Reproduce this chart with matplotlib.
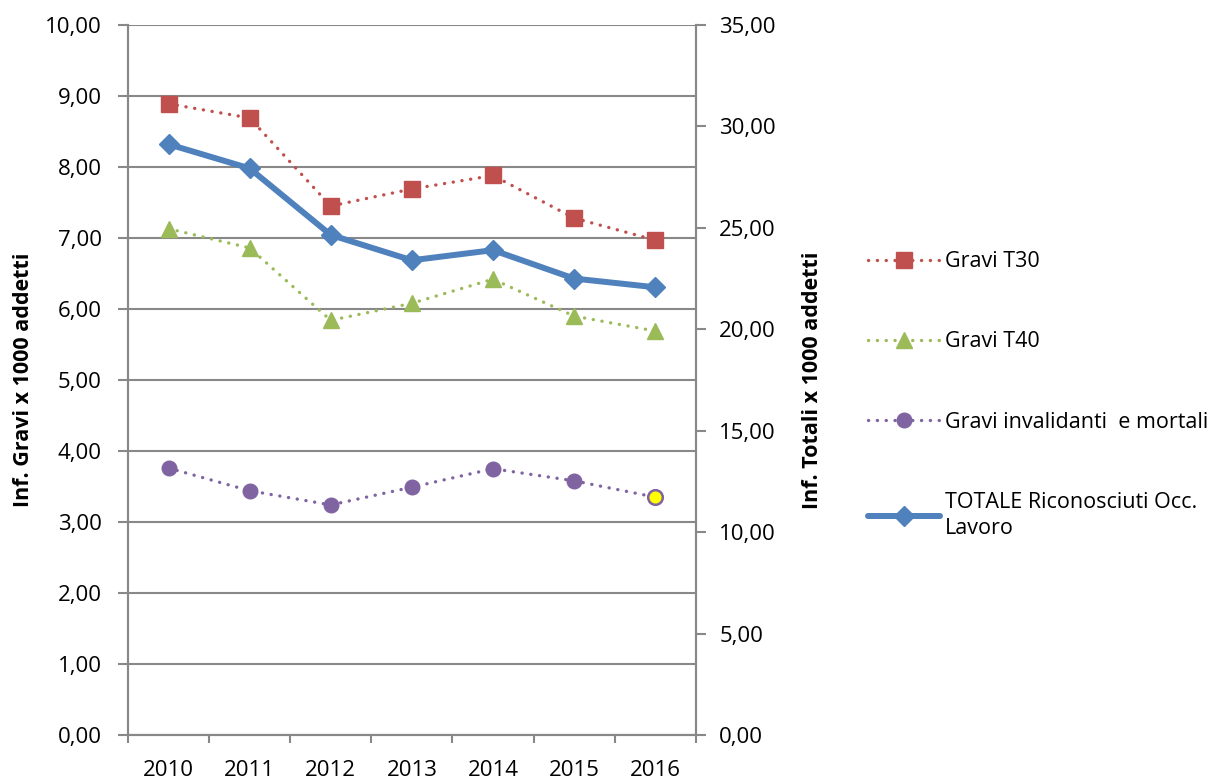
import numpy as np
import matplotlib.pyplot as plt
from matplotlib.ticker import FuncFormatter, MultipleLocator

plt.rcParams['font.family'] = ['Open Sans', 'DejaVu Sans']

# data
years = ['2010', '2011', '2012', '2013', '2014', '2015', '2016']
gravi_t30 = [8.89, 8.69, 7.45, 7.69, 7.88, 7.28, 6.97]
gravi_t40 = [7.13, 6.86, 5.84, 6.08, 6.42, 5.90, 5.69]
gravi_inv = [3.76, 3.44, 3.24, 3.49, 3.75, 3.58, 3.35]
totale = [29.12, 27.93, 24.65, 23.40, 23.90, 22.50, 22.07]

RED = '#C0504D'
GREEN = '#9BBB59'
PURPLE = '#8064A2'
BLUE = '#4F81BD'
GRID = '#888888'

def comma_fmt(v, pos):
    return f'{v:.2f}'.replace('.', ',')

x = np.arange(len(years))

fig = plt.figure(figsize=(12.21, 7.80), dpi=100)
ax1 = fig.add_axes([0.1048, 0.0577, 0.465, 0.9103])
ax2 = ax1.twinx()

dot = dict(linestyle=(0, (0.05, 2.6)), linewidth=2.4, dash_capstyle='round')

l1, = ax1.plot(x, gravi_t30, color=RED, marker='s', markersize=11,
               markeredgecolor=RED, label='Gravi T30', **dot)
l2, = ax1.plot(x, gravi_t40, color=GREEN, marker='^', markersize=12,
               markeredgecolor=GREEN, label='Gravi T40', **dot)
l3, = ax1.plot(x, gravi_inv, color=PURPLE, marker='o', markersize=10.5,
               markeredgecolor=PURPLE, label='Gravi invalidanti  e mortali', **dot)
# last point highlighted in yellow
ax1.plot(x[-1:], gravi_inv[-1:], linestyle='none', marker='o', markersize=10.5,
         markerfacecolor='#FFFF00', markeredgecolor=PURPLE, markeredgewidth=1.8)
l4, = ax2.plot(x, totale, color=BLUE, marker='D', markersize=10,
               linewidth=4.3, solid_capstyle='round', label='TOTALE Riconosciuti Occ.\nLavoro')

ax1.set_ylim(0, 10)
ax2.set_ylim(0, 35)
ax1.set_xlim(-0.5, len(years) - 0.5)
ax1.yaxis.set_major_locator(MultipleLocator(1))
ax2.yaxis.set_major_locator(MultipleLocator(5))
ax1.yaxis.set_major_formatter(FuncFormatter(comma_fmt))
ax2.yaxis.set_major_formatter(FuncFormatter(comma_fmt))

ax1.grid(axis='y', color=GRID, linewidth=1.5)
ax1.set_axisbelow(True)

ax1.set_xticks(x)
ax1.set_xticklabels(years)
ax1.set_xticks(np.arange(-0.5, len(years)), minor=True)
ax1.tick_params(axis='x', which='major', length=0, pad=18, labelsize=16)
ax1.tick_params(axis='x', which='minor', length=6, width=1.5, color=GRID)
ax1.tick_params(axis='y', length=7, width=1.5, color=GRID, labelsize=16, pad=12)
ax2.tick_params(axis='y', length=7, width=1.5, color=GRID, labelsize=16, pad=10)

for a in (ax1, ax2):
    a.spines['top'].set_visible(False)
    for s in ('left', 'right', 'bottom'):
        a.spines[s].set_color(GRID)
        a.spines[s].set_linewidth(1.5)

ax1.set_ylabel('Inf. Gravi x 1000 addetti', fontsize=15.5, fontweight='bold', labelpad=8)
ax2.set_ylabel('Inf. Totali x 1000 addetti', fontsize=15.5, fontweight='bold',
               rotation=90, labelpad=19)

leg = fig.legend(handles=[l1, l2, l3, l4], loc='upper left', bbox_to_anchor=(0.711, 0.678),
                 frameon=False, fontsize=15.5, labelspacing=2.75, handlelength=3.35,
                 handletextpad=0.23, borderaxespad=0, borderpad=0)
leg.get_texts()[3].set_linespacing(1.35)

fig.savefig('out.png', dpi=100)
